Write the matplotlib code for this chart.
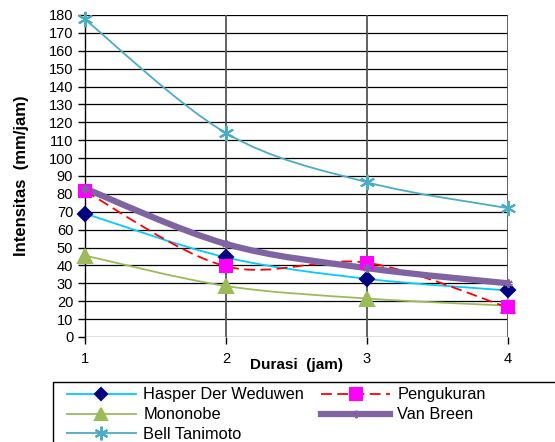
"""
Grafik intensitas hujan vs durasi untuk beberapa metode.
"""

import matplotlib
matplotlib.use("Agg")
import matplotlib.pyplot as plt
from matplotlib.path import Path
from matplotlib.patches import PathPatch, Rectangle
from matplotlib.lines import Line2D

plt.rcParams["font.family"] = ["Liberation Sans", "DejaVu Sans"]

# ─────────────────────────────────────────────
# DATA
# ─────────────────────────────────────────────

durasi = [1, 2, 3, 4]
hasper = [69, 44.5, 32.5, 26]
pengukuran = [81.5, 39.5, 41.5, 16.5]
mononobe = [45.5, 28.5, 21.5, 17.5]
van_breen = [83, 52, 38.5, 30]
bell_tanimoto = [177.5, 114, 86.5, 72]

y_ticks = list(range(0, 181, 10))


def kurva_halus(x, y):
    """Path Bezier (gaya smoothing Excel / Catmull-Rom) lewat titik data."""
    n = len(x)
    px = [x[0]] + list(x) + [x[-1]]
    py = [y[0]] + list(y) + [y[-1]]
    verts = [(x[0], y[0])]
    codes = [Path.MOVETO]
    for i in range(1, n):
        x0, y0 = px[i - 1], py[i - 1]
        x1, y1 = px[i], py[i]
        x2, y2 = px[i + 1], py[i + 1]
        x3, y3 = px[i + 2], py[i + 2]
        c1 = (x1 + (x2 - x0) / 6, y1 + (y2 - y0) / 6)
        c2 = (x2 - (x3 - x1) / 6, y2 - (y3 - y1) / 6)
        verts += [c1, c2, (x2, y2)]
        codes += [Path.CURVE4] * 3
    return Path(verts, codes)


seri = [
    # label, data, warna garis, lw, ls, marker, warna marker, ukuran
    ("Hasper Der Weduwen", hasper, "#00CCFF", 1.3, "-", "D", "#000080", 7),
    ("Mononobe", mononobe, "#9BBB59", 1.3, "-", "^", "#9BBB59", 10),
    ("Bell Tanimoto", bell_tanimoto, "#4BACC6", 1.3, "-", (6, 2, 0), "#4BACC6", 11),
    ("Pengukuran", pengukuran, "#FF0000", 1.3, (0, (6, 3)), "s", "#FF00FF", 9),
    ("Van Breen", van_breen, "#8064A2", 4.5, "-", (6, 2, 0), "#8064A2", 6),
]

fig = plt.figure(figsize=(5.55, 4.42), dpi=100)
ax = fig.add_axes([0.1532, 0.2376, 0.7621, 0.7285])

ax.set_xlim(1, 4)
ax.set_ylim(0, 180)
ax.set_yticks(y_ticks)
ax.set_xticks(durasi)

for y in y_ticks:
    ax.axhline(y, color="black", lw=0.9, zorder=1)
for x in durasi[1:]:
    ax.axvline(x, color="#555555", lw=1.3, zorder=1)

for s in ["top", "right", "bottom"]:
    ax.spines[s].set_visible(False)
ax.spines["left"].set_color("black")
ax.spines["left"].set_linewidth(1.0)

# urutan gambar: Van Breen di atas garis lain
urutan = [2, 1, 0, 3, 4]
handles = []
for idx in range(len(seri)):
    label, data, warna, lw, ls, mk, mwarna, ms = seri[idx]
    patch = PathPatch(kurva_halus(durasi, data), fill=False, edgecolor=warna,
                      lw=lw, linestyle=ls, zorder=3 + urutan[idx],
                      clip_on=False, capstyle="butt")
    ax.add_patch(patch)
    ax.plot(durasi, data, linestyle="none", marker=mk, markersize=ms,
            color=mwarna, markeredgecolor=mwarna, mew=1.5,
            zorder=10 + urutan[idx], clip_on=False)
    handles.append(Line2D([], [], color=warna, lw=lw, linestyle=ls, marker=mk,
                          markersize=ms * 0.9, markerfacecolor=mwarna,
                          markeredgecolor=mwarna, mew=1.5, label=label))

ax.tick_params(axis="both", labelsize=10.5, colors="black", length=5,
               width=1.0, direction="out")
ax.tick_params(axis="x", pad=6)

ax.set_xlabel("Durasi  (jam)", fontsize=11, fontweight="bold", labelpad=-6)
ax.set_ylabel("Intensitas  (mm/jam)", fontsize=12, fontweight="bold",
              labelpad=14)

# kotak legenda (terpotong di tepi kanan/bawah seperti aslinya)
fig.patches.append(Rectangle((0.0955, -0.1), 1.0, 0.2357, fill=False,
                             edgecolor="black", lw=1.0,
                             transform=fig.transFigure, figure=fig))

leg = fig.legend(handles=handles, ncol=2, loc="upper left",
                 bbox_to_anchor=(0.1148, 0.131),
                 bbox_transform=fig.transFigure,
                 fontsize=11.8, frameon=False,
                 handlelength=4.2, handletextpad=0.45, labelspacing=0.3,
                 borderpad=0.2, borderaxespad=0.0, columnspacing=1.05)

fig.savefig("out.png", dpi=100)
